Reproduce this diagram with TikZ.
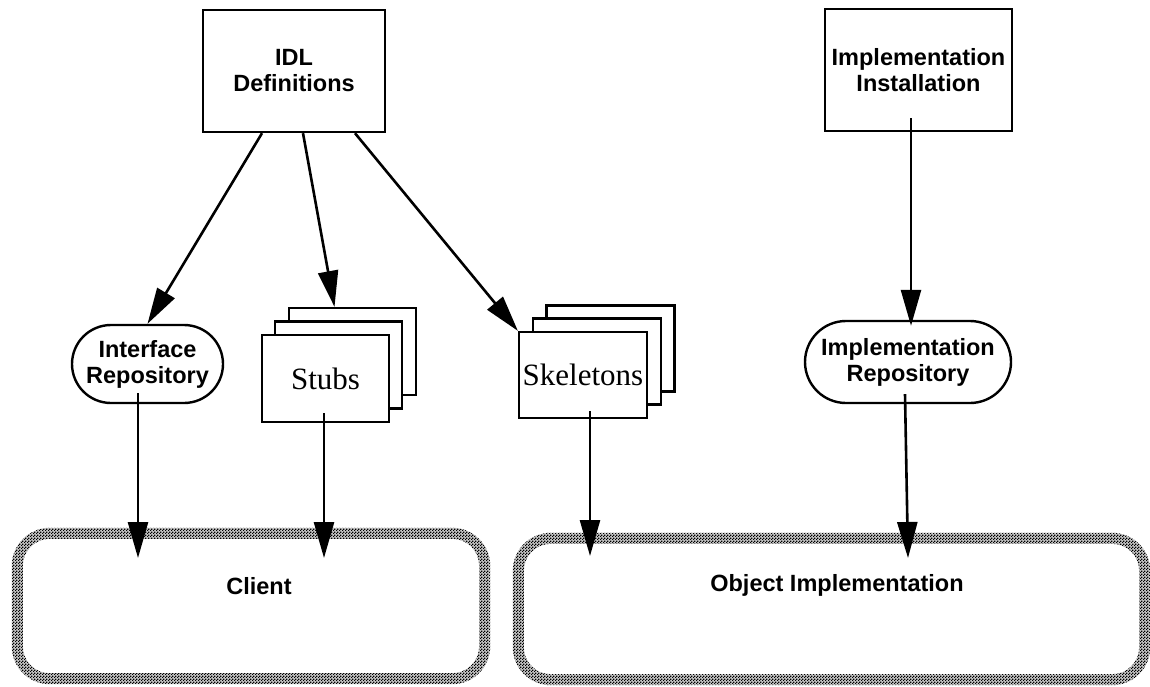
\documentclass[tikz,border=0pt]{standalone}
\usepackage{fontspec}
\setmainfont{Liberation Sans}
\newfontfamily\pageface{Liberation Serif}
\usetikzlibrary{arrows.meta,shapes.misc,patterns}

% fine checkerboard used for the shaded frames
\pgfdeclarepatternformonly{dither}{\pgfpointorigin}{\pgfpoint{3pt}{3pt}}{\pgfpoint{3pt}{3pt}}{%
  \pgfpathrectangle{\pgfpointorigin}{\pgfpoint{1.5pt}{1.5pt}}%
  \pgfpathrectangle{\pgfpoint{1.5pt}{1.5pt}}{\pgfpoint{1.5pt}{1.5pt}}%
  \pgfusepath{fill}}

\tikzset{
  lbl/.style={font=\fontsize{23.5}{26}\selectfont\bfseries, align=center},
  plainbox/.style={lbl, draw, line width=2.4pt, inner sep=0pt},
  pill/.style={lbl, draw, line width=2.4pt, rounded rectangle, inner sep=0pt},
  page/.style={draw, line width=2.2pt, fill=white, inner sep=0pt,
               font=\pageface\fontsize{31}{34}\selectfont},
  frame/.style={inner sep=0pt},
  band/.style={even odd rule},
  flow/.style={line width=2.6pt, -{Triangle[length=36pt,width=20pt]}},
}

\begin{document}
\begin{tikzpicture}[x=1pt, y=-1pt]
\useasboundingbox (0,0) rectangle (1150,687);

% sources
\node[plainbox, minimum width=182pt, minimum height=122pt] (idl) at (294,71) {IDL\\Definitions};
\node[plainbox, minimum width=187pt, minimum height=122pt] (inst) at (918.5,70) {Implementation\\Installation};

% repositories
\node[pill, minimum width=151pt, minimum height=78pt] (ir) at (147.5,364) {Interface\\Repository};
\node[pill, minimum width=206pt, minimum height=82pt] (implrepo) at (908,362) {Implementation\\Repository};

% stacked pages: stubs
\node[page, minimum width=127pt, minimum height=87pt] (stubC) at (352.5,351.5) {};
\node[page, minimum width=127pt, minimum height=87pt] (stubB) at (338.5,365) {};
\node[page, minimum width=127pt, minimum height=87pt] (stubA) at (325.5,378.5) {Stubs};

% stacked pages: skeletons
\node[page, minimum width=128pt, minimum height=86pt] (skelC) at (610.5,348.5) {};
\node[page, minimum width=128pt, minimum height=86pt] (skelB) at (597,361.5) {};
\node[page, minimum width=128pt, minimum height=86pt] (skelA) at (583,375) {Skeletons};

% shaded frames: a grey ring with a dot screen over it
\node[frame, minimum width=478pt, minimum height=156pt] (client) at (251,606) {};
\node[frame, minimum width=637pt, minimum height=152pt] (objimpl) at (831.5,609) {};
\foreach \f in {client,objimpl}{
  \fill[band, black!22]
    [rounded corners=38pt] (\f.south west) rectangle (\f.north east)
    [rounded corners=27pt] ([shift={(11pt,11pt)}]\f.south west) rectangle ([shift={(-11pt,-11pt)}]\f.north east);
  \fill[band, pattern=dither]
    [rounded corners=38pt] (\f.south west) rectangle (\f.north east)
    [rounded corners=27pt] ([shift={(11pt,11pt)}]\f.south west) rectangle ([shift={(-11pt,-11pt)}]\f.north east);
}
\node[lbl] (clientlabel) at ([xshift=8pt,yshift=20pt]client.center) {Client};
\node[lbl] (objlabel) at ([xshift=5.5pt,yshift=24pt]objimpl.center) {Object Implementation};

% arrow tips inside the frames
\coordinate (cin1) at (138,558);
\coordinate (cin2) at (324,558);
\coordinate (oin1) at (590,556);
\coordinate (oin2) at (908,558);

% connectors
\draw[flow] ([xshift=-32pt]idl.south) -- (ir.north);
\draw[flow] ([xshift=9pt]idl.south) -- ([xshift=-18pt]stubC.north);
\draw[flow] ([xshift=61pt]idl.south) -- (skelA.north west);
\draw[flow] ([xshift=-7.5pt,yshift=14pt]inst.south) -- ([xshift=3pt,yshift=-6pt]implrepo.north);

\draw[flow] ([xshift=-9.5pt,yshift=11pt]ir.south) -- (cin1);
\draw[flow] ([xshift=-1.5pt,yshift=10pt]stubA.south) -- (cin2);
\draw[flow] ([xshift=7pt,yshift=8pt]skelA.south) -- (oin1);
\draw[flow] ([xshift=-3pt,yshift=10pt]implrepo.south) -- (oin2);
\end{tikzpicture}
\end{document}
